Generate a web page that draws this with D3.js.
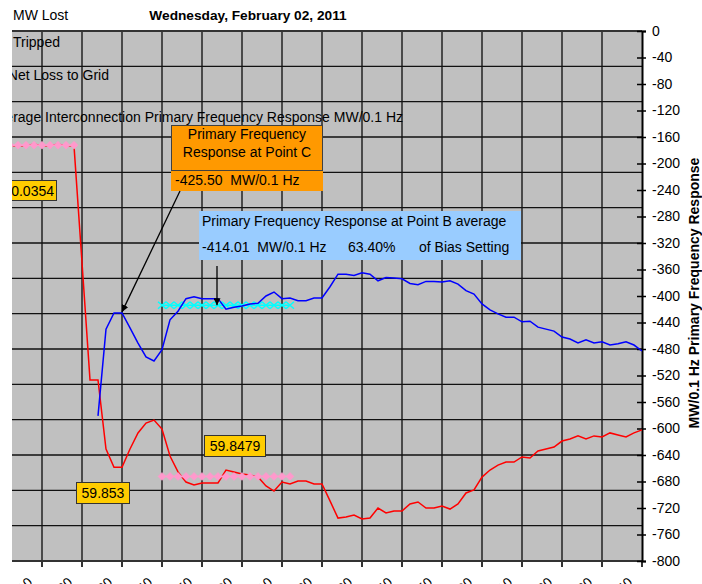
<!DOCTYPE html>
<html>
<head>
<meta charset="utf-8">
<script src="https://cdn.jsdelivr.net/npm/d3@7/dist/d3.min.js"></script>
<style>
    body { margin: 0; background: #fff; }
    text { font-family: Arial, "Liberation Sans", sans-serif; }
</style>
</head>
<body>
<script>
// frequency (Hz), one sample per index
var frequency = [
    60.036, 60.035, 60.035, 60.035, 60.036, 60.035, 60.035, 60.036, 60.035, 60.035,
    59.969, 59.9025, 59.9025, 59.8634, 59.853, 59.853, 59.8634, 59.8725, 59.8781, 59.8798,
    59.8747, 59.8594, 59.8504, 59.8447, 59.843, 59.8442, 59.8442, 59.8442, 59.8515, 59.8504,
    59.8493, 59.8487, 59.8476, 59.8425, 59.8396, 59.8447, 59.8436, 59.8453, 59.8453, 59.8436,
    59.8436, 59.834, 59.8243, 59.8249, 59.826, 59.8238, 59.8243, 59.83, 59.8272, 59.8283,
    59.8283, 59.8323, 59.8334, 59.83, 59.83, 59.8311, 59.8294, 59.8323, 59.8385, 59.8402,
    59.8475, 59.8515, 59.8543, 59.856, 59.856, 59.8589, 59.8583, 59.8623, 59.8634, 59.8645,
    59.8679, 59.8691, 59.8708, 59.8691, 59.8708, 59.8702, 59.8725, 59.8713, 59.8702, 59.8725,
    59.8742
];

// primary frequency response (MW/0.1 Hz), starts after the trip
var response = [
    null, null, null, null, null, null, null, null, null, null,
    null, null, -581, -450, -425.5, -425.5, -448, -471, -492, -498,
    -481, -436, -423, -404, -401, -404, -404, -404, -420, -417,
    -415, -412, -411, -400, -394, -404, -403, -407, -407, -403,
    -403, -386, -367, -367, -369, -365, -367, -377, -372, -373,
    -374, -381, -383, -378, -378, -379, -377, -382, -392, -397,
    -412, -421, -427, -432, -432, -439, -438, -447, -450, -453,
    -462, -465, -471, -466, -471, -469, -474, -472, -469, -474,
    -483
];

// averages
var pointAFreq = { start: 0, end: 9, value: 60.0354 };
var pointBFreq = { start: 20, end: 36, value: 59.8479 };
var pointBResp = { start: 20, end: 36, value: -414.01 };
var pointCResp = { index: 15, value: -425.50 };

var timeLabels = ['05:08:00', '05:08:10', '05:08:20', '05:08:30', '05:08:40', '05:08:50',
    '05:09:00', '05:09:10', '05:09:20', '05:09:30', '05:09:40', '05:09:50',
    '05:10:00', '05:10:10', '05:10:20', '05:10:30', '05:10:40'];
var freqTicks = d3.range(0, 16).map(function(k) { return +(59.80 + k*0.02).toFixed(2); });
var respTicks = d3.range(-800, 1, 40);

(function() {
    var width = 702,
        height = 584,
        pLeft = 2, pRight = 642, pTop = 31, pBottom = 561,
        fs = '14px';

    var svg = d3.select('body').append('svg')
        .attr('width', width)
        .attr('height', height);

    var defs = svg.append('defs');
    defs.append('clipPath').attr('id', 'crop')
        .append('rect').attr('x', 12).attr('y', 0).attr('width', width-12).attr('height', height);
    defs.append('marker')
        .attr('id', 'arrow').attr('viewBox', '0 0 10 10')
        .attr('refX', 10).attr('refY', 5)
        .attr('markerWidth', 7).attr('markerHeight', 7)
        .attr('markerUnits', 'userSpaceOnUse')
        .attr('orient', 'auto')
        .append('path').attr('d', 'M0,0L10,5L0,10Z').attr('fill', '#000');

    var root = svg.append('g').attr('clip-path', 'url(#crop)');

    var xScale = d3.scaleLinear().domain([0, 80]).range([pLeft, pRight]),
        yFreq = d3.scaleLinear().domain([59.80, 60.10]).range([pBottom, pTop]),
        yResp = d3.scaleLinear().domain([-800, 0]).range([pBottom, pTop]);

    // plot area
    root.append('rect')
        .attr('x', pLeft-40).attr('y', pTop)
        .attr('width', pRight-pLeft+40).attr('height', pBottom-pTop)
        .attr('fill', '#c0c0c0');

    root.append('g').selectAll('line')
        .data(d3.range(5, 80, 5))
        .enter().append('line')
        .attr('x1', function(d) { return xScale(d); })
        .attr('x2', function(d) { return xScale(d); })
        .attr('y1', pTop).attr('y2', pBottom)
        .attr('stroke', '#4a4a4a').attr('stroke-width', 2);

    root.append('g').selectAll('line')
        .data(freqTicks)
        .enter().append('line')
        .attr('x1', pLeft-40).attr('x2', pRight)
        .attr('y1', function(d) { return yFreq(d); })
        .attr('y2', function(d) { return yFreq(d); })
        .attr('stroke', function(d, i) { return i === 0 || i === 15 ? '#333' : '#111'; })
        .attr('stroke-width', function(d, i) { return i === 0 || i === 15 ? 2 : 1.3; });

    // bottom ticks and time labels
    var xTicks = d3.range(0, 81, 5);
    root.append('g').selectAll('line')
        .data(xTicks)
        .enter().append('line')
        .attr('x1', function(d) { return xScale(d); })
        .attr('x2', function(d) { return xScale(d); })
        .attr('y1', pBottom).attr('y2', pBottom+6)
        .attr('stroke', '#333').attr('stroke-width', 2);

    root.append('g').selectAll('text')
        .data(xTicks)
        .enter().append('text')
        .attr('transform', function(d) { return 'translate('+(xScale(d)-9)+','+(pBottom+22)+') rotate(-45)'; })
        .style('text-anchor', 'end')
        .style('font-size', '13px')
        .text(function(d, i) { return timeLabels[i]; });

    // right axis
    var axis = root.append('g')
        .attr('transform', 'translate('+pRight+',0)')
        .call(d3.axisRight(yResp).tickValues(respTicks).tickSizeOuter(0).tickSize(4).tickPadding(6)
            .tickFormat(function(d) { return String(d); }));
    axis.select('.domain').attr('stroke', '#000').attr('stroke-width', 2);
    axis.selectAll('.tick line').attr('x1', -5).attr('stroke', '#000').attr('stroke-width', 1.5);
    axis.selectAll('.tick text')
        .style('font-size', fs)
        .style('font-family', 'Arial, "Liberation Sans", sans-serif')
        .attr('fill', '#000');

    root.append('text')
        .attr('transform', 'translate(699,'+((pTop+pBottom)/2-3)+') rotate(-90)')
        .style('text-anchor', 'middle')
        .style('font-size', '14px')
        .style('font-weight', 'bold')
        .text('MW/0.1 Hz Primary Frequency Response');

    // header texts
    root.append('text').attr('x', 13).attr('y', 20).style('font-size', fs).text('MW Lost');
    root.append('text').attr('x', 248).attr('y', 20).style('text-anchor', 'middle')
        .style('font-size', '13.7px').style('font-weight', 'bold').text('Wednesday, February 02, 2011');
    root.append('text').attr('x', 13).attr('y', 47).style('font-size', fs).text('Tripped');
    root.append('text').attr('x', 109).attr('y', 80).style('text-anchor', 'end').style('font-size', fs).text('Net Loss to Grid');
    root.append('text').attr('x', 403).attr('y', 122).style('text-anchor', 'end').style('font-size', fs)
        .text('Average Interconnection Primary Frequency Response MW/0.1 Hz');

    // series
    var lineFreq = d3.line()
        .x(function(d, i) { return xScale(i); })
        .y(function(d) { return yFreq(d); });

    var lineResp = d3.line()
        .defined(function(d) { return d !== null; })
        .x(function(d, i) { return xScale(i); })
        .y(function(d) { return yResp(d); });

    function drawAvg(avg, yScale, color, marker) {
        var pts = d3.range(avg.start, avg.end+1).map(function(i) { return { i: i, v: avg.value }; }),
            g = root.append('g');
        g.append('path')
            .attr('d', d3.line().x(function(d) { return xScale(d.i); }).y(function(d) { return yScale(d.v); })(pts))
            .attr('fill', 'none').attr('stroke', color).attr('stroke-width', 1.5);
        g.selectAll('path.m')
            .data(pts)
            .enter().append('path')
            .attr('class', 'm')
            .attr('transform', function(d) { return 'translate('+xScale(d.i)+','+yScale(d.v)+')'; })
            .attr('d', marker === 'x' ? 'M-4,-3.5L4,3.5M-4,3.5L4,-3.5' : 'M0,-4L4,0L0,4L-4,0Z')
            .attr('fill', marker === 'x' ? 'none' : color)
            .attr('stroke', color)
            .attr('stroke-width', marker === 'x' ? 1.5 : 0.5);
    }

    root.append('path')
        .attr('d', lineFreq(frequency))
        .attr('fill', 'none').attr('stroke', '#ff0000').attr('stroke-width', 1.5);

    drawAvg(pointAFreq, yFreq, '#ff99cc', 'd');
    drawAvg(pointBFreq, yFreq, '#ff99cc', 'd');
    drawAvg(pointBResp, yResp, '#00ffff', 'x');

    root.append('path')
        .attr('d', lineResp(response))
        .attr('fill', 'none').attr('stroke', '#0000ff').attr('stroke-width', 1.5);

    // point C box
    root.append('rect').attr('x', 171).attr('y', 170).attr('width', 152).attr('height', 21).attr('fill', '#ff9900');
    root.append('rect').attr('x', 171.5).attr('y', 125.5).attr('width', 151).attr('height', 45)
        .attr('fill', '#ff9900').attr('stroke', '#404040').attr('stroke-width', 1);
    root.append('text').attr('x', 247).attr('y', 139).style('text-anchor', 'middle').style('font-size', fs).text('Primary Frequency');
    root.append('text').attr('x', 247).attr('y', 157).style('text-anchor', 'middle').style('font-size', fs).text('Response at Point C');
    root.append('text').attr('x', 175).attr('y', 185).style('font-size', fs).style('white-space', 'pre')
        .text(pointCResp.value.toFixed(2)+'  MW/0.1 Hz');
    root.append('line')
        .attr('x1', 180).attr('y1', 191)
        .attr('x2', xScale(pointCResp.index)).attr('y2', yResp(pointCResp.value)-1)
        .attr('stroke', '#000').attr('stroke-width', 1.3).attr('marker-end', 'url(#arrow)');

    // point B box
    root.append('rect').attr('x', 199).attr('y', 211).attr('width', 322).attr('height', 49).attr('fill', '#99ccff');
    root.append('text').attr('x', 202).attr('y', 226).style('font-size', fs).text('Primary Frequency Response at Point B average');
    root.append('text').attr('x', 202).attr('y', 252).style('font-size', fs).style('white-space', 'pre')
        .text(pointBResp.value.toFixed(2)+'  MW/0.1 Hz');
    root.append('text').attr('x', 348).attr('y', 252).style('font-size', fs).text('63.40%');
    root.append('text').attr('x', 419).attr('y', 252).style('font-size', fs).text('of Bias Setting');
    root.append('line')
        .attr('x1', 217).attr('y1', 266)
        .attr('x2', 217).attr('y2', yResp(pointBResp.value))
        .attr('stroke', '#000').attr('stroke-width', 1.3).attr('marker-end', 'url(#arrow)');

    // frequency value labels
    function valueBox(x, y, w, h, label, anchor) {
        root.append('rect').attr('x', x+0.5).attr('y', y+0.5).attr('width', w).attr('height', h)
            .attr('fill', '#ffcc00').attr('stroke', '#333').attr('stroke-width', 1);
        root.append('text')
            .attr('x', anchor === 'end' ? x+w-2 : x+w/2+0.5)
            .attr('y', y+h/2+5.5)
            .style('text-anchor', anchor || 'middle')
            .style('font-size', fs)
            .text(label);
    }
    valueBox(-30, 180, 86, 20, pointAFreq.value.toFixed(4), 'end');
    valueBox(76, 482, 53, 21, String(frequency[pointCResp.index]));
    valueBox(204, 435, 61, 21, pointBFreq.value.toFixed(4));
})();
</script>
</body>
</html>
